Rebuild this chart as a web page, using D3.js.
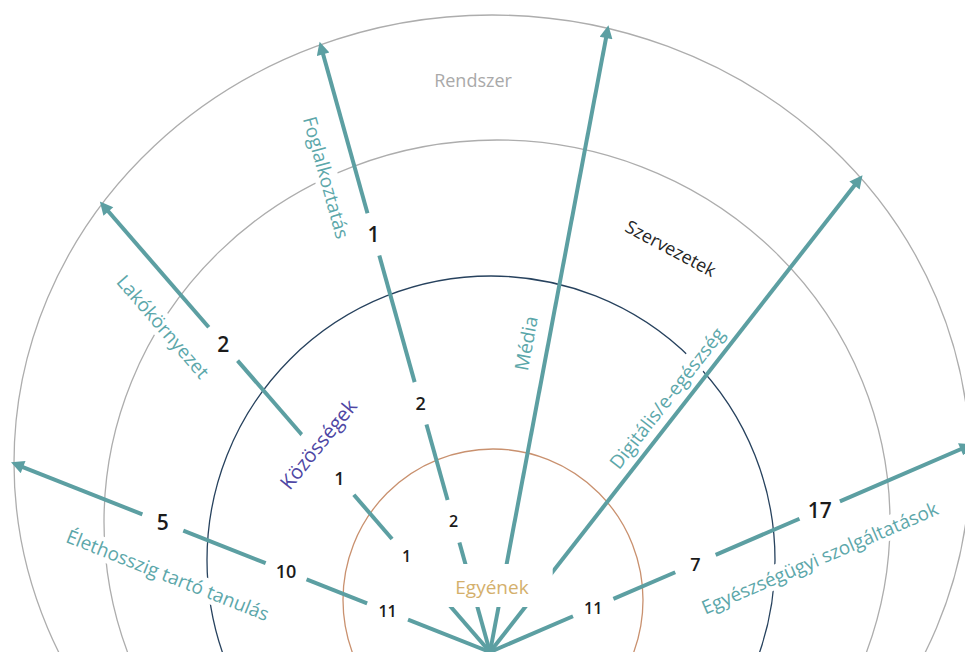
<!DOCTYPE html>
<html>
<head>
<meta charset="utf-8">
<script src="https://cdn.jsdelivr.net/npm/d3@7"></script>
<style>
	body { margin: 0; background: #fff; }
	svg { display: block; }
	text { font-family: "Open Sans", sans-serif; }
</style>
</head>
<body>
<script>
'use strict';

// Themes (one arrow each), left to right
const themes = ["Élethosszig tartó tanulás", "Lakókörnyezet", "Foglalkoztatás", "Média", "Digitális/e-egészség", "Egyészségügyi szolgáltatások"];
// Rings, inside out
const levels = ["Egyének", "Közösségek", "Szervezetek", "Rendszer"];
// Counts on each arrow per ring (null = no number)
const egyenekCounts = [11, 1, 2, null, null, 11];
const kozossegekCounts = [10, 1, 2, null, null, 7];
const szervezetekCounts = [5, 2, 1, null, null, 17];

const params = {
	width: 965,
	height: 652,
	origin: [490, 652],
	teal: "#5c9fa2",
	labelTeal: "#5ca7aa",
	gap: 22
};

// Layout of the drawing (not data)
const rayAngles = [158.4, 130.9, 105.6, 79.3, 52.0, 23.3];              // degrees, ccw from east
const themeLabelPos = [[328, -47], [460, -34], [501, -30], [310, -22], [309, -17], [340, 44]]; // [along, side]
const levelFraction = [0.216, 0.43, 0.69];                              // share of arrow length
const levelFontSize = [16, 18, 21];
const numberNudge = { "Lakókörnyezet|Közösségek": -24, "Foglalkoztatás|Közösségek": -12 };

const ringShapes = [
	{ cx: 493, cy: 600, rx: 150, ry: 151, stroke: "#c9916f" },
	{ cx: 491, cy: 560, rx: 284, ry: 284, stroke: "#27425e" },
	{ cx: 497, cy: 522, rx: 393, ry: 382, stroke: "#adadad" },
	{ cx: 492, cy: 463, rx: 478, ry: 448, stroke: "#adadad" }
];
const ringLabels = [
	{ x: 492, y: 587, rotate: 0, size: 19, fill: "#d4b06c", pad: [46, 24, 10, 7] },
	{ x: 318, y: 444, rotate: -51, size: 20, fill: "#4e46a4", pad: [6, 6, 5, 5] },
	{ x: 671, y: 248, rotate: 28, size: 18, fill: "#262626", pad: null },
	{ x: 473, y: 80, rotate: 0, size: 18, fill: "#a9a9a9", pad: null }
];

// Draw outer SVG
// RETURNS: svg selection
const makeContainer = (params) => {
	const svg = d3.select("body")
		.append("svg")
		.attr("width", params.width)
		.attr("height", params.height);

	svg.append("defs").append("marker")
		.attr("id", "head")
		.attr("viewBox", "0 -5 10 10")
		.attr("markerUnits", "userSpaceOnUse")
		.attr("markerWidth", 15)
		.attr("markerHeight", 13)
		.attr("refX", 6)
		.attr("orient", "auto")
		.append("path")
		.attr("d", "M0,-5L10,0L0,5Z")
		.attr("fill", params.teal);

	return svg;
}

// Unit direction on screen for an angle
const dir = (deg) => {
	const a = deg * Math.PI / 180;
	return [Math.cos(a), -Math.sin(a)];
}

// Distance from origin along u to the ellipse e
const rayToEllipse = (u, e) => {
	const dx = params.origin[0] - e.cx, dy = params.origin[1] - e.cy;
	const A = (u[0] / e.rx) ** 2 + (u[1] / e.ry) ** 2;
	const B = 2 * (dx * u[0] / (e.rx * e.rx) + dy * u[1] / (e.ry * e.ry));
	const C = (dx / e.rx) ** 2 + (dy / e.ry) ** 2 - 1;
	return (-B + Math.sqrt(B * B - 4 * A * C)) / (2 * A);
}

// Text with white box behind it
const addLabel = (boxLayer, textLayer, d) => {
	const tf = `translate(${d.x},${d.y}) rotate(${d.rotate})`;
	const t = textLayer.append("text")
		.attr("transform", tf)
		.attr("text-anchor", "middle")
		.attr("dominant-baseline", "central")
		.attr("font-size", d.size)
		.attr("font-weight", d.weight || 400)
		.attr("fill", d.fill)
		.text(d.text);
	if (!d.pad) return;
	const b = t.node().getBBox();
	const [pl, pr, pt, pb] = d.pad;
	boxLayer.append("rect")
		.attr("transform", tf)
		.attr("x", b.x - pl)
		.attr("y", b.y - pt)
		.attr("width", b.width + pl + pr)
		.attr("height", b.height + pt + pb)
		.attr("fill", "#fff");
}

const draw = () => {
	const svg = makeContainer(params);
	const [ox, oy] = params.origin;

	const ringLayer = svg.append("g");
	const arrowLayer = svg.append("g");
	const boxLayer = svg.append("g");
	const textLayer = svg.append("g");

	// rings
	ringLayer.selectAll("ellipse")
		.data(ringShapes)
		.join("ellipse")
		.attr("cx", d => d.cx)
		.attr("cy", d => d.cy)
		.attr("rx", d => d.rx)
		.attr("ry", d => d.ry)
		.attr("fill", "none")
		.attr("stroke", d => d.stroke)
		.attr("stroke-width", 1.3);

	const angle = d3.scaleOrdinal(themes, rayAngles);
	const counts = [egyenekCounts, kozossegekCounts, szervezetekCounts];

	const rays = themes.map((name, i) => {
		const u = dir(angle(name));
		const len = rayToEllipse(u, ringShapes[3]) - 2;
		const r = d3.scaleLinear().domain([0, 1]).range([0, len]);
		const nums = counts.map((arr, k) => ({
			value: arr[i],
			level: k,
			radius: r(levelFraction[k]) + (numberNudge[name + "|" + levels[k]] || 0)
		})).filter(d => d.value != null);
		return { name, i, u, len, nums };
	});

	// arrows, broken at the numbers
	rays.forEach(ray => {
		const segs = [];
		let start = 0;
		ray.nums.forEach(n => {
			segs.push([start, n.radius - params.gap]);
			start = n.radius + params.gap;
		});
		segs.push([start, ray.len]);
		arrowLayer.selectAll(null)
			.data(segs)
			.join("line")
			.attr("x1", d => ox + ray.u[0] * d[0])
			.attr("y1", d => oy + ray.u[1] * d[0])
			.attr("x2", d => ox + ray.u[0] * d[1])
			.attr("y2", d => oy + ray.u[1] * d[1])
			.attr("stroke", params.teal)
			.attr("stroke-width", 4)
			.attr("marker-end", (d, k) => k === segs.length - 1 ? "url(#head)" : null);

		// theme label
		const [along, side] = themeLabelPos[ray.i];
		const n = [-ray.u[1], ray.u[0]];
		let rot = Math.atan2(ray.u[1], ray.u[0]) * 180 / Math.PI;
		if (rot < -90) rot += 180;
		addLabel(boxLayer, textLayer, {
			x: ox + ray.u[0] * along + n[0] * side,
			y: oy + ray.u[1] * along + n[1] * side,
			rotate: rot,
			size: 19,
			fill: params.labelTeal,
			text: ray.name,
			pad: [6, 6, -1, -1]
		});

		// numbers
		ray.nums.forEach(d => {
			textLayer.append("text")
				.attr("x", ox + ray.u[0] * d.radius)
				.attr("y", oy + ray.u[1] * d.radius)
				.attr("text-anchor", "middle")
				.attr("dominant-baseline", "central")
				.attr("font-size", levelFontSize[d.level])
				.attr("font-weight", 600)
				.attr("fill", "#1b1b1b")
				.text(d.value);
		});
	});

	// ring names
	levels.forEach((name, k) => {
		addLabel(boxLayer, textLayer, Object.assign({ text: name }, ringLabels[k]));
	});
}

draw();
</script>
</body>
</html>
